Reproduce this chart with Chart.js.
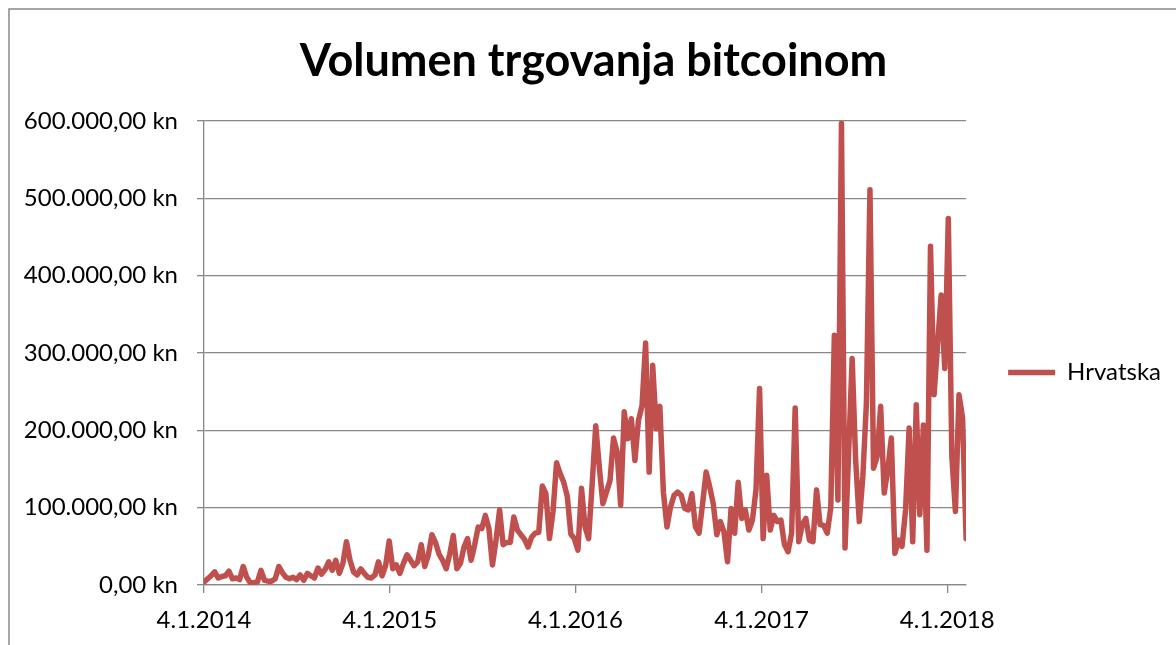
<!DOCTYPE html>
<html><head><meta charset="utf-8">
<script src="https://cdn.jsdelivr.net/npm/chart.js@4"></script>
<style>html,body{margin:0;padding:0;background:#fff}</style>
</head><body>
<canvas id="c" width="1176" height="645"></canvas>
<script>
const titleText = 'Volumen trgovanja bitcoinom';
const seriesName = 'Hrvatska';
const tickLabels = ['4.1.2014', '4.1.2015', '4.1.2016', '4.1.2017', '4.1.2018'];
const yTickValues = [0, 100000, 200000, 300000, 400000, 500000, 600000];
// weekly trading volume (kn), one value per week starting 4.1.2014
const volume = [
4000, 8000, 12000, 17000, 9000, 11000, 12000, 18000, 8000, 9000,
7000, 24000, 10000, 3000, 3000, 4000, 19000, 6000, 5000, 5000,
8000, 24000, 16000, 10000, 8000, 10000, 7000, 13000, 6000, 15000,
12000, 9000, 22000, 14000, 20000, 30000, 19000, 32000, 15000, 28000,
56000, 32000, 17000, 13000, 21000, 15000, 10000, 9000, 13000, 30000,
12000, 25000, 57000, 21000, 26000, 15000, 28000, 39000, 32000, 25000,
30000, 52000, 24000, 39000, 65000, 55000, 40000, 32000, 21000, 40000,
64000, 21000, 28000, 49000, 60000, 32000, 52000, 75000, 73000, 90000,
73000, 26000, 58000, 97000, 52000, 55000, 55000, 88000, 71000, 65000,
59000, 49000, 62000, 67000, 68000, 128000, 118000, 60000, 95000, 158000,
144000, 133000, 115000, 66000, 60000, 45000, 125000, 75000, 60000, 131000,
206000, 153000, 105000, 120000, 135000, 190000, 172000, 103000, 224000, 189000,
215000, 161000, 213000, 232000, 313000, 146000, 284000, 202000, 231000, 120000,
75000, 101000, 116000, 120000, 116000, 99000, 97000, 118000, 75000, 67000,
105000, 146000, 127000, 105000, 65000, 82000, 69000, 30000, 99000, 67000,
133000, 86000, 97000, 71000, 84000, 123000, 254000, 60000, 142000, 71000,
90000, 82000, 84000, 52000, 43000, 67000, 229000, 56000, 78000, 86000,
58000, 56000, 123000, 78000, 77000, 67000, 100000, 323000, 110000, 597000,
48000, 170000, 293000, 160000, 82000, 140000, 235000, 511000, 151000, 166000,
231000, 119000, 149000, 190000, 41000, 58000, 50000, 97000, 203000, 56000,
233000, 91000, 207000, 45000, 438000, 246000, 312000, 375000, 280000, 474000,
166000, 95000, 246000, 216000, 60000
];

const DAY = 86400000;
function parseDate(s) { const p = s.split('.').map(Number); return Date.UTC(p[2], p[1] - 1, p[0]); }
const startTime = parseDate(tickLabels[0]);
// category positions: week dates as day offsets from the first date
const weekDays = volume.map((_, i) => i * 7);
const tickDays = tickLabels.map(s => Math.round((parseDate(s) - startTime) / DAY));

function fmtKn(v) {
  const s = String(Math.round(v)).replace(/\B(?=(\d{3})+(?!\d))/g, '.');
  return s + ',00 kn';
}

const GRID = '#888888';
const FONT = 'Lato';

const frame = {
  id: 'frame',
  beforeDraw(chart) {
    const ctx = chart.ctx;
    ctx.save();
    ctx.fillStyle = '#ffffff';
    ctx.fillRect(0, 0, chart.width, chart.height);
    ctx.strokeStyle = GRID;
    ctx.lineWidth = 1.5;
    ctx.strokeRect(9, 9, chart.width + 50, chart.height + 50);
    ctx.restore();
  }
};

new Chart(document.getElementById('c'), {
  type: 'line',
  data: {
    datasets: [{
      label: seriesName,
      data: weekDays.map((d, i) => ({ x: d, y: volume[i] })),
      borderColor: '#C0504D',
      backgroundColor: '#C0504D',
      borderWidth: 5.5,
      pointRadius: 0,
      tension: 0,
      borderJoinStyle: 'round',
      borderCapStyle: 'round',
      fill: false
    }]
  },
  options: {
    responsive: false,
    animation: false,
    devicePixelRatio: 1,
    layout: { padding: { left: 16, right: 5, top: 0, bottom: 0 } },
    plugins: {
      title: {
        display: true,
        text: titleText,
        color: '#000',
        font: { family: FONT, size: 45, weight: 'bold' },
        padding: { top: 34, bottom: 33 }
      },
      legend: {
        position: 'right',
        title: { display: true, text: ' ', padding: { top: 99, bottom: 0 }, font: { size: 1 } },
        labels: {
          usePointStyle: true,
          pointStyle: 'line',
          pointStyleWidth: 47,
          padding: 42,
          color: '#000',
          font: { family: FONT, size: 24 }
        }
      },
      tooltip: { enabled: false }
    },
    scales: {
      x: {
        type: 'linear',
        min: 0,
        max: weekDays[weekDays.length - 1],
        offset: false,
        afterBuildTicks(scale) { scale.ticks = tickDays.map(v => ({ value: v })); },
        afterFit(scale) { scale.height = 60; },
        ticks: {
          autoSkip: false,
          maxRotation: 0,
          padding: 13,
          color: '#000',
          font: { family: FONT, size: 24 },
          callback(v) { const i = tickDays.indexOf(v); return i >= 0 ? tickLabels[i] : ''; }
        },
        grid: { drawOnChartArea: false, drawTicks: true, tickLength: 8, color: GRID, lineWidth: 1.3 },
        border: { display: true, color: GRID, width: 1.3 }
      },
      y: {
        min: 0,
        max: 600000,
        afterBuildTicks(scale) { scale.ticks = yTickValues.map(v => ({ value: v })); },
        afterFit(scale) { scale.width = 204 - 16; },
        ticks: {
          padding: 19,
          color: '#000',
          font: { family: FONT, size: 24 },
          callback(v) { return fmtKn(v); }
        },
        grid: { drawOnChartArea: true, drawTicks: true, tickLength: 7, color: GRID, lineWidth: 1.3 },
        border: { display: true, color: GRID, width: 1.3 }
      }
    }
  },
  plugins: [frame]
});
</script>
</body></html>
